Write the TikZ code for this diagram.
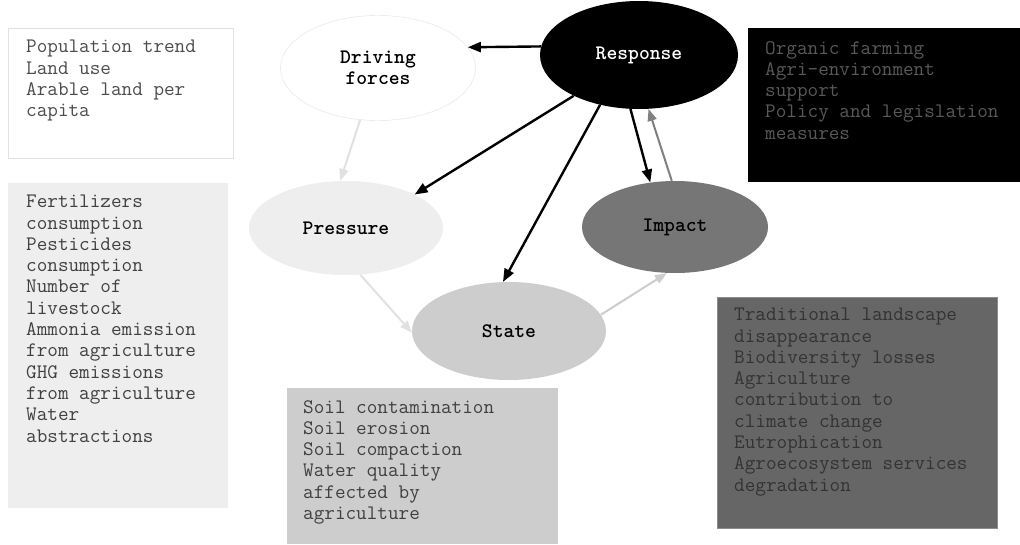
\documentclass[tikz,border=0pt]{standalone}
\usepackage{tikz}
\usetikzlibrary{shapes.geometric, arrows.meta, positioning}
\usepackage{xcolor}
\definecolor{paleline}{RGB}{225, 225, 225}
\definecolor{boxgray}{RGB}{238, 238, 238}
\definecolor{stategray}{RGB}{205, 205, 205}
\definecolor{impactgray}{RGB}{118, 118, 118}
\definecolor{darkbox}{RGB}{102, 102, 102}

\begin{document}
\begin{tikzpicture}[
    x=1pt, y=-1pt,
    infobox/.style={rectangle, anchor=north west, inner sep=0pt},
    itemlist/.style={anchor=north west, inner sep=0pt, align=left, font=\fontsize{20.6}{21.3}\selectfont\ttfamily},
    phase/.style={ellipse, inner sep=0pt, align=center, font=\fontsize{20.6}{21}\selectfont\ttfamily\bfseries},
    strong/.style={line width=2.4pt, -{Triangle[length=13pt, width=10pt]}},
    soft/.style={line width=2pt, -{Triangle[length=12pt, width=9pt]}}
]
    \useasboundingbox (0,0) rectangle (1020,544);
    \fill[white] (0,0) rectangle (1020,544);

    % Indicator boxes
    \node[infobox, fill=white, draw=paleline, minimum width=225, minimum height=130] (drivebox) at (8,28) {};
    \node[itemlist, text=black!70] (drivelist) at (26,40) {
        Population trend\\
        Land use\\
        Arable land per\\
        capita
    };

    \node[infobox, fill=boxgray, minimum width=220, minimum height=325] (pressbox) at (8,183) {};
    \node[itemlist, text=black!75] (presslist) at (26,195) {
        Fertilizers\\
        consumption\\
        Pesticides\\
        consumption\\
        Number of\\
        livestock\\
        Ammonia emission\\
        from agriculture\\
        GHG emissions\\
        from agriculture\\
        Water\\
        abstractions
    };

    \node[infobox, fill=stategray, minimum width=271, minimum height=156] (statebox) at (287,388) {};
    \node[itemlist, text=black!75] (statelist) at (303,400) {
        Soil contamination\\
        Soil erosion\\
        Soil compaction\\
        Water quality\\
        affected by\\
        agriculture
    };

    \node[infobox, fill=black, minimum width=272, minimum height=154] (respbox) at (748,28) {};
    \node[itemlist, text=black!65] (resplist) at (765,41) {
        Organic farming\\
        Agri-environment\\
        support\\
        Policy and legislation\\
        measures
    };

    \node[infobox, fill=darkbox, draw=black!45, minimum width=280, minimum height=231] (impbox) at (717,297) {};
    \node[itemlist, text=black!80] (implist) at (734,308) {
        Traditional landscape\\
        disappearance\\
        Biodiversity losses\\
        Agriculture\\
        contribution to\\
        climate change\\
        Eutrophication\\
        Agroecosystem services\\
        degradation
    };

    % DPSIR ellipses
    \node[phase, fill=white, draw=paleline, minimum width=195, minimum height=105] (drive) at (378,68) {Driving\\forces};
    \node[phase, fill=black, text=white, minimum width=198, minimum height=108] (resp) at (639,55) {Response};
    \node[phase, fill=boxgray, minimum width=194, minimum height=94] (press) at (346,228) {Pressure};
    \node[phase, fill=impactgray, minimum width=186, minimum height=92] (imp) at (675,227) {Impact};
    \node[phase, fill=stategray, minimum width=194, minimum height=98] (state) at (509,331) {State};

    % Links
    \draw[soft, paleline] (drive.251) -- (press.97);
    \draw[soft, paleline] (press.287) -- (state.181);
    \draw[soft, stategray] (state.10) -- (imp.260);
    \draw[soft, black!50] (imp.94) -- (resp.280);
    \draw[strong] (resp.175) -- (drive.13);
    \draw[strong] (resp.212) -- (press.26);
    \draw[strong] (resp.232) -- (state.97);
    \draw[strong] (resp.261) -- (imp.119);

\end{tikzpicture}
\end{document}
